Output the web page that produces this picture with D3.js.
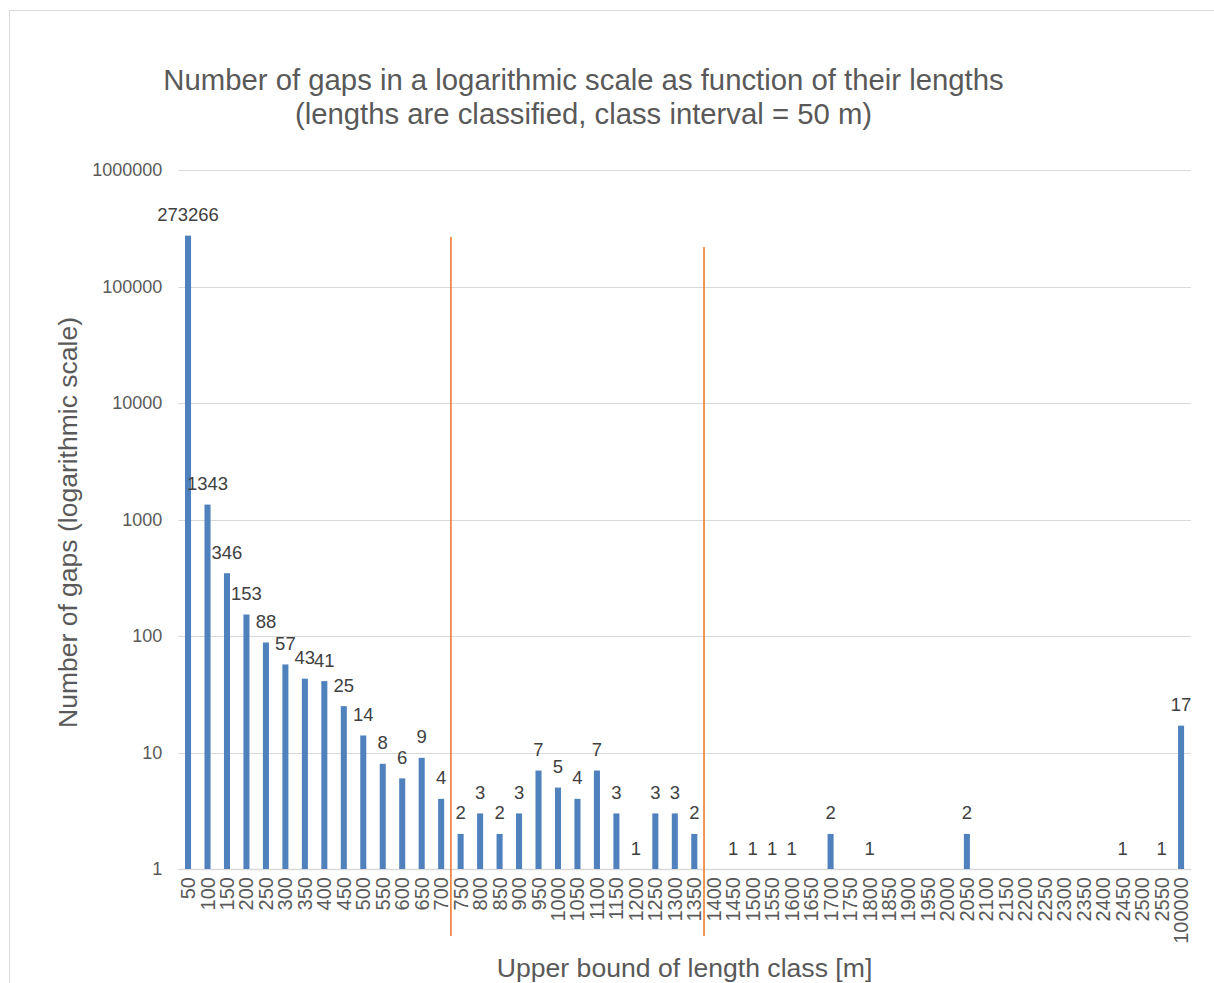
<!DOCTYPE html>
<html>
<head>
<meta charset="utf-8">
<script src="https://cdn.jsdelivr.net/npm/d3@7"></script>
<style>
  html, body { margin: 0; padding: 0; background: #ffffff; }
  svg { display: block; font-family: "Liberation Sans", Arial, sans-serif; }
</style>
</head>
<body>
<svg id="chart" width="1214" height="983"></svg>
<script>
// Upper bounds of the length classes (class interval = 50 m), last class is open-ended
const categories = [
  "50","100","150","200","250","300","350","400","450","500",
  "550","600","650","700","750","800","850","900","950","1000",
  "1050","1100","1150","1200","1250","1300","1350","1400","1450","1500",
  "1550","1600","1650","1700","1750","1800","1850","1900","1950","2000",
  "2050","2100","2150","2200","2250","2300","2350","2400","2450","2500",
  "2550","100000"
];

// Number of gaps per class (null = no gaps in that class)
const gapCounts = [
  273266, 1343, 346, 153, 88, 57, 43, 41, 25, 14,
  8, 6, 9, 4, 2, 3, 2, 3, 7, 5,
  4, 7, 3, 1, 3, 3, 2, null, 1, 1,
  1, 1, null, 2, null, 1, null, null, null, null,
  2, null, null, null, null, null, null, null, 1, null,
  1, 17
];

// Logarithmic axis ticks
const yTicks = [1, 10, 100, 1000, 10000, 100000, 1000000];

// Vertical separators: drawn on the boundary before the given class, reaching up to the given count
const separatorBefore = ["750", "1400"];
const separatorTop = [266000, 218000];

const titleLines = [
  "Number of gaps in a logarithmic scale as function of their lengths",
  "(lengths are classified, class interval = 50 m)"
];
const xTitle = "Upper bound of length class [m]";
const yTitle = "Number of gaps (logarithmic scale)";

const svg = d3.select("#chart");
const W = 1214, H = 983;

const plot = { left: 178.3, right: 1190.8, top: 170, bottom: 869 };

// Outer chart frame
svg.append("rect")
  .attr("x", 9.5).attr("y", 10.5)
  .attr("width", W + 10).attr("height", H + 10)
  .attr("fill", "#ffffff")
  .attr("stroke", "#d9d9d9").attr("stroke-width", 1);

const x = d3.scaleBand().domain(categories).range([plot.left, plot.right]).padding(0);
const y = d3.scaleLog().domain([1, 1000000]).range([plot.bottom, plot.top]);
const barW = x.step() * 0.31;
const cx = c => x(c) + x.bandwidth() / 2;

// Horizontal gridlines
svg.append("g")
  .selectAll("line")
  .data(yTicks)
  .join("line")
  .attr("x1", plot.left).attr("x2", plot.right)
  .attr("y1", d => Math.round(y(d)) + 0.5).attr("y2", d => Math.round(y(d)) + 0.5)
  .attr("stroke", "#d9d9d9").attr("stroke-width", 1);

// Y axis labels
const yAxis = d3.axisLeft(y).tickValues(yTicks).tickFormat(d3.format("d")).tickSize(0).tickPadding(16);
const gy = svg.append("g").attr("transform", `translate(${plot.left},0)`).call(yAxis);
gy.select(".domain").remove();
gy.selectAll("text")
  .attr("fill", "#595959")
  .style("font-size", "18px")
  .style("font-family", "'Liberation Sans', Arial, sans-serif");

// X axis with rotated class labels
const xAxis = d3.axisBottom(x).tickSize(0).tickPadding(0);
const gx = svg.append("g").attr("transform", `translate(0,${plot.bottom})`).call(xAxis);
gx.select(".domain").attr("stroke", "#d9d9d9").attr("stroke-width", 1.5);
gx.selectAll("text")
  .attr("fill", "#595959")
  .style("font-size", "20px")
  .style("font-family", "'Liberation Sans', Arial, sans-serif")
  .attr("text-anchor", "end")
  .attr("transform", "translate(0,8) rotate(-90)")
  .attr("x", 0).attr("y", 0).attr("dy", "0.35em");

const rows = categories.map((c, i) => ({ c, v: gapCounts[i] })).filter(d => d.v != null);

// Bars
svg.append("g")
  .selectAll("rect")
  .data(rows)
  .join("rect")
  .attr("x", d => cx(d.c) - barW / 2)
  .attr("y", d => y(d.v))
  .attr("width", barW)
  .attr("height", d => plot.bottom - y(d.v))
  .attr("fill", "#4f81bd");

// Value labels
svg.append("g")
  .selectAll("text")
  .data(rows)
  .join("text")
  .attr("x", d => cx(d.c))
  .attr("y", d => y(d.v) - 14.5)
  .attr("text-anchor", "middle")
  .attr("fill", "#404040")
  .style("font-size", "18.5px")
  .text(d => d.v);

// Orange separators
svg.append("g")
  .selectAll("line")
  .data(separatorBefore.map((c, i) => ({ c, top: separatorTop[i] })))
  .join("line")
  .attr("x1", d => x(d.c)).attr("x2", d => x(d.c))
  .attr("y1", d => y(d.top)).attr("y2", plot.bottom + 67)
  .attr("stroke", "#ed7d31").attr("stroke-width", 1.6);

// Title
svg.append("g")
  .selectAll("text")
  .data(titleLines)
  .join("text")
  .attr("x", 583.5)
  .attr("y", (d, i) => 90 + i * 34)
  .attr("text-anchor", "middle")
  .attr("fill", "#595959")
  .style("font-size", "29.3px")
  .text(d => d);

// Axis titles
svg.append("text")
  .attr("x", (plot.left + plot.right) / 2)
  .attr("y", 977)
  .attr("text-anchor", "middle")
  .attr("fill", "#595959")
  .style("font-size", "26.6px")
  .text(xTitle);

svg.append("text")
  .attr("transform", `translate(77,522.5) rotate(-90)`)
  .attr("text-anchor", "middle")
  .attr("fill", "#595959")
  .style("font-size", "26.5px")
  .text(yTitle);
</script>
</body>
</html>
